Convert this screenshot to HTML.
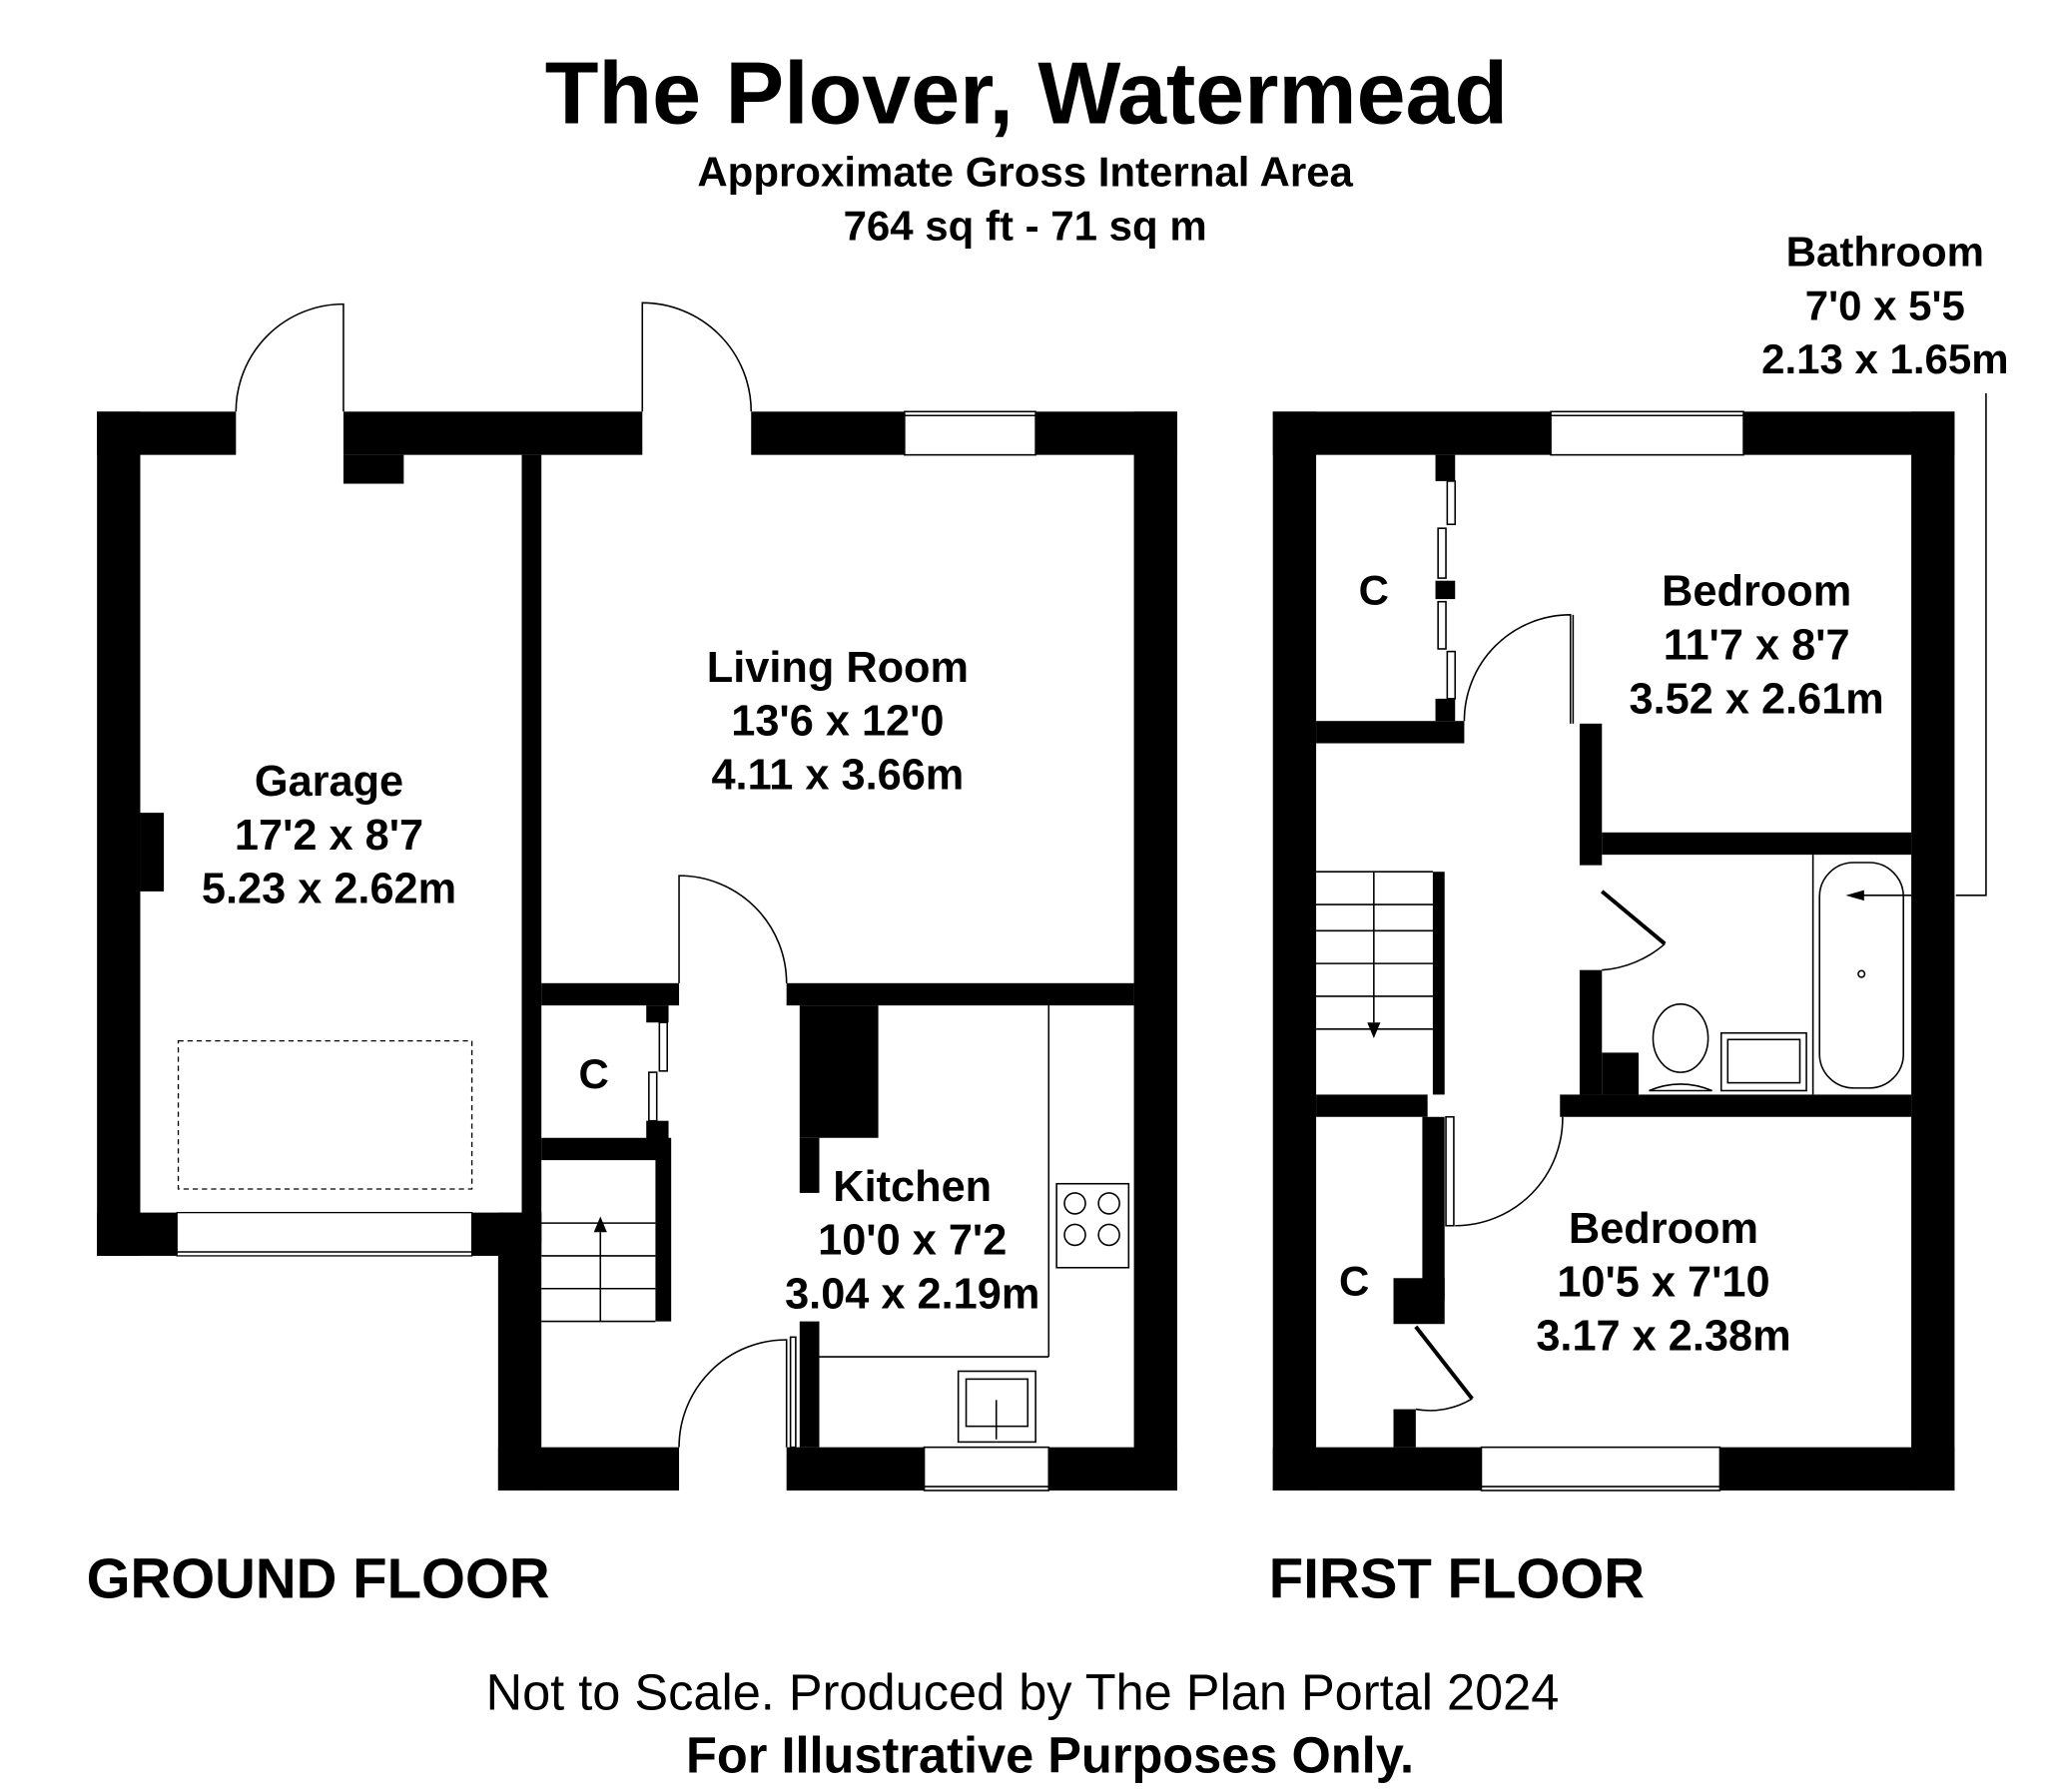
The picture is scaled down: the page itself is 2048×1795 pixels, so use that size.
<!DOCTYPE html>
<html><head><meta charset="utf-8"><style>html,body{margin:0;padding:0;background:#fff}svg{display:block}</style></head>
<body>
<svg width="2048" height="1795" viewBox="0 0 1560 1367" preserveAspectRatio="none" xmlns="http://www.w3.org/2000/svg" font-family="Liberation Sans, Arial, sans-serif">
<g font-weight="bold" text-anchor="middle" fill="#000">
<text x="783" y="94" font-size="67">The Plover, Watermead</text>
<text x="782" y="142" font-size="32">Approximate Gross Internal Area</text>
<text x="782" y="183" font-size="32">764 sq ft - 71 sq m</text>
<text x="1438" y="203" font-size="32">Bathroom</text>
<text x="1438" y="244" font-size="32">7'0 x 5'5</text>
<text x="1438" y="285" font-size="32">2.13 x 1.65m</text>
<text x="251" y="607" font-size="33">Garage</text>
<text x="251" y="648" font-size="33">17'2 x 8'7</text>
<text x="251" y="689" font-size="33">5.23 x 2.62m</text>
<text x="639" y="520" font-size="33">Living Room</text>
<text x="639" y="561" font-size="33">13'6 x 12'0</text>
<text x="639" y="602" font-size="33">4.11 x 3.66m</text>
<text x="696" y="916" font-size="33">Kitchen</text>
<text x="696" y="957" font-size="33">10'0 x 7'2</text>
<text x="696" y="998" font-size="33">3.04 x 2.19m</text>
<text x="453" y="830" font-size="32">C</text>
<text x="1048" y="461" font-size="32">C</text>
<text x="1033" y="988" font-size="32">C</text>
<text x="1340" y="462" font-size="33">Bedroom</text>
<text x="1340" y="503" font-size="33">11'7 x 8'7</text>
<text x="1340" y="544" font-size="33">3.52 x 2.61m</text>
<text x="1269" y="948" font-size="33">Bedroom</text>
<text x="1269" y="989" font-size="33">10'5 x 7'10</text>
<text x="1269" y="1030" font-size="33">3.17 x 2.38m</text>
</g>
<g font-weight="bold" font-size="43" fill="#000">
<text x="66" y="1219">GROUND FLOOR</text>
<text x="968" y="1219">FIRST FLOOR</text>
</g>
<text x="780" y="1304" font-size="38.5" text-anchor="middle">Not to Scale. Produced by The Plan Portal 2024</text>
<text x="801" y="1352" font-size="38.5" text-anchor="middle" font-weight="bold">For Illustrative Purposes Only.</text>

<!-- Ground floor walls -->
<g fill="#000">
<rect x="74" y="314" width="106" height="33"/>
<rect x="262" y="314" width="228" height="33"/>
<rect x="262" y="347" width="46" height="22"/>
<rect x="573" y="314" width="117" height="33"/>
<rect x="790" y="314" width="108" height="33"/>
<rect x="74" y="314" width="33" height="644"/>
<rect x="107" y="620" width="18" height="60"/>
<rect x="74" y="925" width="61" height="33"/>
<rect x="360" y="925" width="53" height="33"/>
<rect x="380" y="925" width="33" height="212"/>
<rect x="398" y="347" width="15" height="600"/>
<rect x="380" y="1104" width="138" height="33"/>
<rect x="600" y="1104" width="105" height="33"/>
<rect x="800" y="1104" width="98" height="33"/>
<rect x="865" y="314" width="33" height="823"/>
<rect x="413" y="750" width="105" height="17"/>
<rect x="600" y="750" width="265" height="17"/>
<rect x="493" y="767" width="17" height="13"/>
<rect x="493" y="855" width="17" height="15"/>
<rect x="413" y="868" width="97" height="17"/>
<rect x="500" y="868" width="12" height="140"/>
<rect x="610" y="767" width="60" height="101"/>
<rect x="610" y="868" width="15" height="42"/>
<rect x="610" y="1008" width="15" height="96"/>
</g>
<g fill="none" stroke="#000" stroke-width="1.2">
<path d="M180 314 A82 82 0 0 1 262 232 L262 314"/>
<path d="M573 314 A83 83 0 0 0 490 231 L490 314"/>
<path d="M600 750 A82 82 0 0 0 518 668 L518 750"/>
<path d="M518 1104 A82 82 0 0 1 600 1022 L600 1104"/>
<rect x="603" y="1020" width="4" height="84"/>
<rect x="136" y="794" width="224" height="113" stroke-dasharray="4 3" stroke-width="1"/>
<rect x="135" y="925" width="225" height="33" stroke-width="1"/>
<line x1="135" y1="955" x2="360" y2="955"/>
<rect x="690" y="314" width="100" height="33"/><line x1="688" y1="317" x2="792" y2="317"/>
<rect x="705" y="1104" width="95" height="33"/><line x1="703" y1="1134" x2="802" y2="1134"/>
<rect x="503" y="780" width="6" height="37"/><rect x="495" y="818" width="6" height="37"/>
<line x1="413" y1="933" x2="500" y2="933"/><line x1="413" y1="958" x2="500" y2="958"/><line x1="413" y1="983" x2="500" y2="983"/><line x1="413" y1="1008" x2="500" y2="1008"/>
<line x1="458" y1="1008" x2="458" y2="940"/>
<line x1="800" y1="767" x2="800" y2="1035"/><line x1="625" y1="1035" x2="800" y2="1035"/>
<rect x="806" y="903" width="55" height="64"/>
<circle cx="820" cy="918" r="8"/><circle cx="846" cy="918" r="8"/><circle cx="820" cy="942" r="8"/><circle cx="846" cy="942" r="8"/>
<rect x="731" y="1046" width="59" height="54"/><rect x="737" y="1052" width="47" height="36"/>
<line x1="760" y1="1068" x2="760" y2="1098"/>
</g>
<path d="M453 940 L463 940 L458 928 Z" fill="#000"/>

<!-- First floor walls -->
<g fill="#000">
<rect x="971" y="314" width="212" height="33"/>
<rect x="1330" y="314" width="161" height="33"/>
<rect x="971" y="314" width="33" height="823"/>
<rect x="1458" y="314" width="33" height="823"/>
<rect x="971" y="1104" width="159" height="33"/>
<rect x="1312" y="1104" width="179" height="33"/>
<rect x="1004" y="550" width="113" height="17"/>
<rect x="1095" y="347" width="15" height="20"/>
<rect x="1095" y="443" width="15" height="14"/>
<rect x="1095" y="533" width="15" height="17"/>
<rect x="1205" y="552" width="17" height="108"/>
<rect x="1222" y="635" width="236" height="17"/>
<rect x="1205" y="740" width="17" height="95"/>
<rect x="1222" y="803" width="28" height="32"/>
<rect x="1190" y="835" width="268" height="17"/>
<rect x="1004" y="835" width="85" height="17"/>
<rect x="1093" y="665" width="9" height="170"/>
<rect x="1085" y="852" width="17" height="140"/>
<rect x="1063" y="975" width="39" height="35"/>
<rect x="1063" y="1075" width="17" height="29"/>
</g>
<g fill="none" stroke="#000" stroke-width="1.2">
<rect x="1183" y="314" width="147" height="33"/><line x1="1180" y1="317" x2="1333" y2="317"/>
<rect x="1130" y="1104" width="182" height="33"/><line x1="1128" y1="1134" x2="1314" y2="1134"/>
<rect x="1104" y="367" width="6" height="33"/><rect x="1097" y="403" width="6" height="38"/>
<rect x="1097" y="459" width="6" height="36"/><rect x="1104" y="497" width="6" height="36"/>
<path d="M1117 550 A81 81 0 0 1 1198 469 L1198 552"/>
<line x1="1200" y1="469" x2="1200" y2="552"/>
<path d="M1222 740 A82 82 0 0 0 1270 720"/>
<line x1="1222" y1="680" x2="1270" y2="720" stroke-width="3"/>
<path d="M1110 935 A82 82 0 0 0 1192 852"/>
<rect x="1103" y="852" width="6" height="83"/>
<path d="M1080 1075 A62 62 0 0 0 1123 1067"/>
<line x1="1080" y1="1012" x2="1123" y2="1067" stroke-width="3"/>
<line x1="1004" y1="690" x2="1093" y2="690"/><line x1="1004" y1="710" x2="1093" y2="710"/><line x1="1004" y1="735" x2="1093" y2="735"/><line x1="1004" y1="760" x2="1093" y2="760"/><line x1="1004" y1="785" x2="1093" y2="785"/><line x1="1004" y1="665" x2="1093" y2="665"/>
<line x1="1048" y1="665" x2="1048" y2="780"/>
<line x1="1383" y1="652" x2="1383" y2="835"/>
<rect x="1388" y="658" width="64" height="172" rx="26"/>
<circle cx="1420" cy="743" r="2.5"/>
<rect x="1313" y="788" width="65" height="44"/>
<rect x="1318" y="793" width="55" height="33"/>
<ellipse cx="1282" cy="792" rx="21" ry="26"/>
<path d="M1258 832 Q1282 822 1306 832 Z"/>
<polyline points="1515,300 1515,683 1492,683"/>
<line x1="1458" y1="683" x2="1412" y2="683"/>
</g>
<path d="M1043 780 L1053 780 L1048 792 Z" fill="#000"/>
<path d="M1408 683 L1422 679 L1422 687 Z" fill="#000"/>
</svg>
</body></html>
